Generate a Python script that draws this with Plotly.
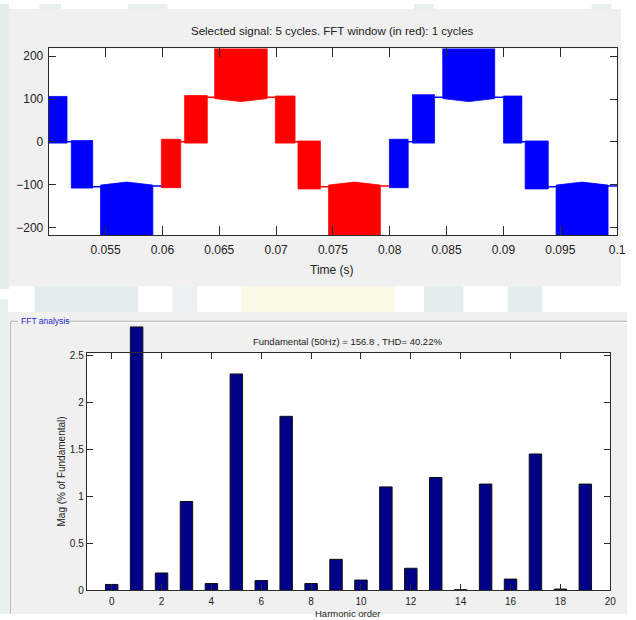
import plotly.graph_objects as go

W, H = 636, 620

# ---------------- time-domain signal (PWM blocks of the inverter output) ----------------
block_start = [0.05000, 0.05199, 0.05456, 0.05991, 0.06196, 0.06460, 0.06994, 0.07193,
               0.07462, 0.07997, 0.08200, 0.08466, 0.09001, 0.09191, 0.09463]
block_end = [0.05161, 0.05387, 0.05916, 0.06161, 0.06395, 0.06922, 0.07167, 0.07390,
             0.07917, 0.08162, 0.08394, 0.08923, 0.09162, 0.09394, 0.09920]
block_inner_edge = [-3, 3, -101, 6, -3, 101, -3, 2, -101, 6, -3, 101, -3, 2, -101]
block_inner_mid = [-3, 3, -94, 6, -3, 94, -3, 2, -94, 6, -3, 94, -3, 2, -94]
block_outer = [106, -108, -230, -107, 108, 230, 107, -110, -230, -107, 110, 230, 107, -110, -230]
plateau_level = [0, -105, -103, 0, 104, 104, 0, -105, -103, 0, 104, 104, 0, -105, -103]

signal_span = [0.05, 0.1]
fft_window = [0.06, 0.08]
selected_cycles = 5
window_cycles = 1

time_ticks = [0.055, 0.06, 0.065, 0.07, 0.075, 0.08, 0.085, 0.09, 0.095, 0.1]
time_tick_text = ["0.055", "0.06", "0.065", "0.07", "0.075", "0.08", "0.085", "0.09", "0.095", "0.1"]
volt_ticks = [-200, -100, 0, 100, 200]

# ---------------- FFT result ----------------
harmonic_order = list(range(20))
mag_pct = [0.063, 2.80, 0.185, 0.945, 0.073, 2.30, 0.105, 1.85, 0.073, 0.33,
           0.11, 1.10, 0.235, 1.20, 0.007, 1.13, 0.12, 1.45, 0.014, 1.13]
fundamental_hz = 50
fundamental_mag = 156.8
thd_pct = 40.22

harm_ticks = list(range(0, 21, 2))
mag_ticks = [0, 0.5, 1, 1.5, 2, 2.5]
mag_tick_text = ["0", "0.5", "1", "1.5", "2", "2.5"]

BLUE = "#0000ff"
RED = "#ff0000"
BAR = "#000088"
PANEL = "#f0f0f0"
AXC = "#2b2b2b"
SANS = "Liberation Sans, Arial, Helvetica"


def px(x):
    return x / W


def py(y):
    return 1 - y / H


# plot-area pixel boxes
TOP_L, TOP_R, TOP_T, TOP_B = 49.4, 626.0, 45.2, 235.0
BOT_L, BOT_R, BOT_T, BOT_B = 88.0, 619.0, 355.0, 596.0
BAR_T = 316.0
mag_top = 2.52
px_per_unit = (BOT_B - BOT_T) / mag_top

fig = go.Figure()

# ---- signal blocks, coloured by whether they fall inside the FFT window ----
poly = {BLUE: ([], []), RED: ([], [])}
for t0, t1, ie, im, ou in zip(block_start, block_end, block_inner_edge, block_inner_mid, block_outer):
    tm = 0.5 * (t0 + t1)
    col = RED if fft_window[0] <= tm <= fft_window[1] else BLUE
    xs, ys = poly[col]
    xs += [t0, t0, tm, t1, t1, t0, None]
    ys += [ou, ie, im, ie, ou, ou, None]

for col, (xs, ys) in poly.items():
    fig.add_trace(go.Scatter(x=xs, y=ys, mode="lines", fill="toself", fillcolor=col,
                             line=dict(color=col, width=0.8), hoverinfo="skip",
                             showlegend=False, xaxis="x", yaxis="y"))

# ---- flat levels between blocks ----
seg = {BLUE: ([], []), RED: ([], [])}
next_start = block_start[1:] + [signal_span[1]]
for a, b, lev in zip(block_end, next_start, plateau_level):
    cuts = sorted(set([a, b] + [w for w in fft_window if a < w < b]))
    for c0, c1 in zip(cuts[:-1], cuts[1:]):
        mid = 0.5 * (c0 + c1)
        col = RED if fft_window[0] <= mid <= fft_window[1] else BLUE
        xs, ys = seg[col]
        xs += [c0, c1, None]
        ys += [lev, lev, None]

for col, (xs, ys) in seg.items():
    fig.add_trace(go.Scatter(x=xs, y=ys, mode="lines", line=dict(color=col, width=1.5),
                             hoverinfo="skip", showlegend=False, xaxis="x", yaxis="y"))

# ---- harmonic spectrum bars ----
fig.add_trace(go.Bar(x=harmonic_order, y=mag_pct, width=0.5,
                     marker=dict(color=BAR, line=dict(color="#111111", width=1)),
                     showlegend=False, hoverinfo="skip", xaxis="x2", yaxis="y2"))
# empty trace so the framing axes are laid out
fig.add_trace(go.Scatter(x=[], y=[], showlegend=False, xaxis="x3", yaxis="y3"))

axis_common = dict(showgrid=False, zeroline=False, showline=True, linecolor=AXC, linewidth=1,
                   mirror="ticks", ticks="inside", tickcolor=AXC, tickwidth=1)

fig.update_layout(
    width=W, height=H, margin=dict(l=0, r=0, t=0, b=0),
    paper_bgcolor="white", plot_bgcolor="rgba(0,0,0,0)",
    xaxis=dict(domain=[px(TOP_L), px(TOP_R)], range=signal_span, anchor="y",
               tickvals=time_ticks, ticktext=time_tick_text, ticklen=9, ticklabelstandoff=3,
               tickfont=dict(family=SANS, size=12, color="#222"), **axis_common),
    yaxis=dict(domain=[py(TOP_B), py(TOP_T)], range=[-218, 218], anchor="x",
               tickvals=volt_ticks, ticklen=7, ticklabelstandoff=2,
               tickfont=dict(family=SANS, size=12, color="#222"), **axis_common),
    xaxis2=dict(domain=[px(BOT_L), px(BOT_R)], range=[-1, 20], anchor="y2", visible=False),
    yaxis2=dict(domain=[py(BOT_B), py(BAR_T)], range=[0, (BOT_B - BAR_T) / px_per_unit],
                anchor="x2", visible=False),
    xaxis3=dict(domain=[px(BOT_L), px(BOT_R)], range=[-1, 20], anchor="y3",
                tickvals=harm_ticks, ticklen=6, ticklabelstandoff=2,
                tickfont=dict(family=SANS, size=10, color="#222"), **axis_common),
    yaxis3=dict(domain=[py(BOT_B), py(BOT_T)], range=[0, mag_top], anchor="x3",
                tickvals=mag_ticks, ticktext=mag_tick_text, ticklen=6,
                tickfont=dict(family=SANS, size=10, color="#222"), **axis_common),
)

shapes = []
# faint background artwork around the panels
for x0, y0, x1, y1, c in [
    (0, 0, 9, 290, "#e4eded"), (40, 0, 62, 6, "#e8efef"), (130, 0, 170, 6, "#e8efef"),
    (420, 0, 440, 6, "#e8efef"), (600, 0, 620, 6, "#e8efef"),
    (35, 287, 140, 313, "#e4eded"), (175, 287, 200, 313, "#ebf1f1"),
    (245, 287, 400, 313, "#fcf9e4"), (430, 287, 470, 313, "#e4eded"), (515, 287, 550, 313, "#e4eded"),
    (0, 300, 8, 620, "#e8efef"),
]:
    shapes.append(dict(type="rect", xref="paper", yref="paper", layer="below",
                       x0=px(x0), x1=px(x1), y0=py(y1), y1=py(y0),
                       fillcolor=c, line=dict(width=0)))
# gray panels
shapes.append(dict(type="rect", xref="paper", yref="paper", layer="below",
                   x0=px(9), x1=px(630), y0=py(287), y1=py(5), fillcolor=PANEL, line=dict(width=0)))
shapes.append(dict(type="rect", xref="paper", yref="paper", layer="below",
                   x0=px(8), x1=px(636), y0=py(620), y1=py(313), fillcolor=PANEL, line=dict(width=0)))
# white plot areas
shapes.append(dict(type="rect", xref="paper", yref="paper", layer="below",
                   x0=px(TOP_L), x1=px(TOP_R), y0=py(TOP_B), y1=py(TOP_T),
                   fillcolor="white", line=dict(width=0)))
shapes.append(dict(type="rect", xref="paper", yref="paper", layer="below",
                   x0=px(BOT_L), x1=px(BOT_R), y0=py(BOT_B), y1=py(BOT_T),
                   fillcolor="white", line=dict(width=0)))
# etched group-box outline of the FFT panel
for off, c in [(0, "#a0a0a0"), (1, "#ffffff")]:
    for (x0, y0, x1, y1) in [(11, 322.5, 18, 322.5), (65, 322.5, 636, 322.5), (11, 322.5, 11, 620)]:
        shapes.append(dict(type="line", xref="paper", yref="paper", layer="below",
                           x0=px(x0 + off), x1=px(x1 + off if x0 == x1 else x1),
                           y0=py(y0 + off), y1=py(y1 + off if y0 == y1 else y1),
                           line=dict(color=c, width=1)))
fig.update_layout(shapes=shapes)

annotations = [
    dict(text=f"Selected signal: {selected_cycles} cycles. FFT window (in red): {window_cycles} cycles",
         x=px(337), y=py(27), font=dict(family=SANS, size=11.5, color="#222")),
    dict(text="Time (s)", x=px(337), y=py(270), font=dict(family=SANS, size=12, color="#222")),
    dict(text=f"Fundamental ({fundamental_hz}Hz) = {fundamental_mag} , THD= {thd_pct}%",
         x=px(352), y=py(343), font=dict(family=SANS, size=9.5, color="#222")),
    dict(text="Mag (% of Fundamental)", x=px(62), y=py(475), textangle=-90,
         font=dict(family=SANS, size=10, color="#222")),
    dict(text="Harmonic order", x=px(352), y=py(612), yanchor="top",
         font=dict(family=SANS, size=9.5, color="#222")),
    dict(text="FFT analysis", x=px(19), y=py(322.5), xanchor="left",
         font=dict(family=SANS, size=8.5, color="#2a2acc")),
]
for a in annotations:
    a.setdefault("xanchor", "center")
    a.setdefault("yanchor", "middle")
    a.update(xref="paper", yref="paper", showarrow=False)
fig.update_layout(annotations=annotations)

fig.write_html("out.html")
